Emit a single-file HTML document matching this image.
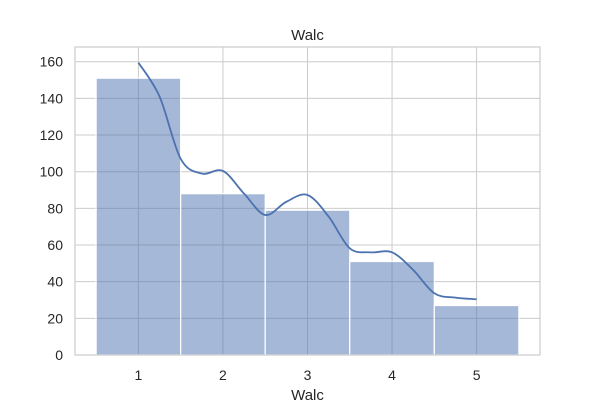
<!DOCTYPE html>
<html><head><meta charset="utf-8"><style>
body{margin:0;background:#fff;}
svg{display:block;font-family:"Liberation Sans",sans-serif;}
</style></head><body>
<svg id="chart" width="600" height="400"></svg>
<script>
const categories=[1,2,3,4,5];
const counts=[151,88,79,51,27];
const kdeX=[1,1.25,1.5,1.75,2,2.25,2.5,2.75,3,3.25,3.5,3.75,4,4.25,4.5,4.75,5];
const kdeY=[159.5,141,107,99,100.4,88,76.4,83.6,87.3,75.5,58.2,56,56,46.4,33.7,31.3,30.4];
const yTicks=[0,20,40,60,80,100,120,140,160];

const NS="http://www.w3.org/2000/svg";
const svg=document.getElementById('chart');
const L=75,R=540,T=47,B=355;
const xs=v=>L+(v-0.25)/(5.5)*(R-L);
const ys=v=>B-v*(B-61.7)/160;
function mk(t,a,p){const e=document.createElementNS(NS,t);for(const k in a)e.setAttribute(k,a[k]);(p||svg).appendChild(e);return e;}

const grid=mk('g',{});


yTicks.forEach(v=>{mk('line',{x1:L,x2:R,y1:ys(v),y2:ys(v),stroke:'#cccccc','stroke-width':1},grid);});
categories.forEach(c=>{mk('line',{x1:xs(c),x2:xs(c),y1:T,y2:B,stroke:'#cccccc','stroke-width':1},grid);});

const bars=mk('g',{});


categories.forEach((c,i)=>{
  const r=mk('rect',{x:xs(c-0.5),y:ys(counts[i]),width:xs(c+0.5)-xs(c-0.5),height:B-ys(counts[i]),fill:'rgba(76,114,176,0.5)',stroke:'#ffffff','stroke-width':1.2},bars);
  
  
});

const pts=kdeX.map((x,i)=>[xs(x),ys(kdeY[i])]);
let d='M'+pts[0][0]+','+pts[0][1];
for(let i=0;i<pts.length-1;i++){
  const p0=pts[Math.max(0,i-1)],p1=pts[i],p2=pts[i+1],p3=pts[Math.min(pts.length-1,i+2)];
  const c1=[p1[0]+(p2[0]-p0[0])/6,p1[1]+(p2[1]-p0[1])/6];
  const c2=[p2[0]-(p3[0]-p1[0])/6,p2[1]-(p3[1]-p1[1])/6];
  d+=' C'+c1+' '+c2+' '+p2;
}
const kde=mk('path',{d:d,fill:'none',stroke:'#4c72b0','stroke-width':1.8});



const frame=mk('rect',{x:L,y:T,width:R-L,height:B-T,fill:'none',stroke:'#cccccc','stroke-width':1.2});



yTicks.forEach(v=>{
  const t=mk('text',{x:63,y:ys(v)+5,'text-anchor':'end','font-size':14,fill:'#262626'});
  t.textContent=v;
  
  
});
categories.forEach(c=>{
  const t=mk('text',{x:xs(c),y:380,'text-anchor':'middle','font-size':14,fill:'#262626'});
  t.textContent=c;
  
  
});
const title=mk('text',{x:(L+R)/2,y:40,'text-anchor':'middle','font-size':15,fill:'#262626'});
title.textContent='Walc';


const xl=mk('text',{x:(L+R)/2,y:400,'text-anchor':'middle','font-size':15,fill:'#262626'});
xl.textContent='Walc';


</script>
</body></html>
